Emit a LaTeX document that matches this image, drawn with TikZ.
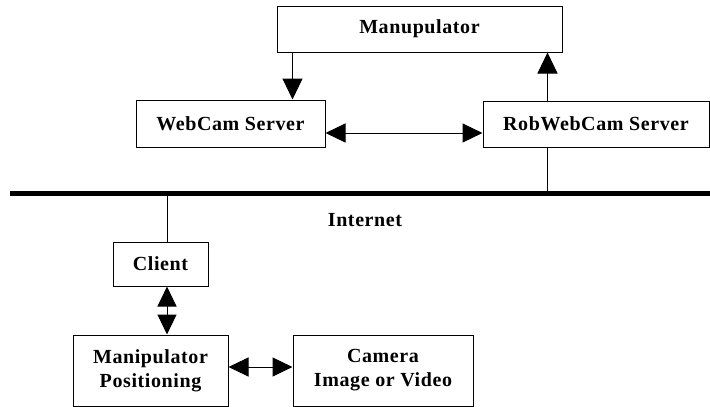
\documentclass[tikz,border=0pt]{standalone}
\usepackage{fontspec}
\setmainfont{Liberation Serif}
\usetikzlibrary{arrows.meta,calc}

\begin{document}
\begin{tikzpicture}[x=1pt,y=-1pt,
    box/.style={draw,line width=1pt,inner sep=0pt,align=center,
      font=\fontsize{20}{24}\selectfont\bfseries\addfontfeature{LetterSpace=3}},
    link/.style={line width=1pt},
    arr/.style={link,-{Triangle[length=21pt,width=20pt]}},
    darr/.style={link,{Triangle[length=20pt,width=19pt]}-{Triangle[length=20pt,width=19pt]}}]
  \useasboundingbox (0,0) rectangle (710,407);
  \node[box,minimum width=285pt,minimum height=46pt] (manu) at (419.5,29) {Manupulator};
  \node[box,minimum width=189pt,minimum height=47pt] (web) at (230.5,123.5) {WebCam Server};
  \node[box,minimum width=226pt,minimum height=46pt] (rob) at (596,124) {RobWebCam Server};
  \node[box,minimum width=95pt,minimum height=44pt] (client) at (160.5,264) {Client};
  \node[box,minimum width=155pt,minimum height=71pt] (manpos) at (150.5,370.5) {Manipulator\\Positioning};
  \node[box,minimum width=180pt,minimum height=71pt] (cam) at (383,370.5) {Camera\\Image or Video};
  \node[box,draw=none] (inet) at (365,220) {Internet};
  % internet backbone
  \coordinate (netL) at (10,193);
  \coordinate (netR) at (710,193);
  \draw[line width=5pt] (netL) -- (netR);
  \coordinate (m1) at ($(manu.south west)+(16,0)$);
  \coordinate (m2) at ($(manu.south east)+(-15,0)$);
  \draw[arr] (m1) -- (m1 |- web.north);
  \draw[arr] (m2 |- rob.north) -- (m2);
  \draw[darr] ([yshift=-9.5pt]web.east) -- ([yshift=-9.5pt]web.east -| rob.west);
  \draw[link] (m2 |- rob.south) -- (m2 |- netR);
  \coordinate (c1) at ($(client.north)+(6.5,0)$);
  \draw[link] (c1) -- (c1 |- netL);
  \draw[darr] (c1 |- client.south) -- (c1 |- manpos.north);
  \draw[darr] ([yshift=3.5pt]manpos.east) -- ([yshift=3.5pt]manpos.east -| cam.west);
\end{tikzpicture}
\end{document}
